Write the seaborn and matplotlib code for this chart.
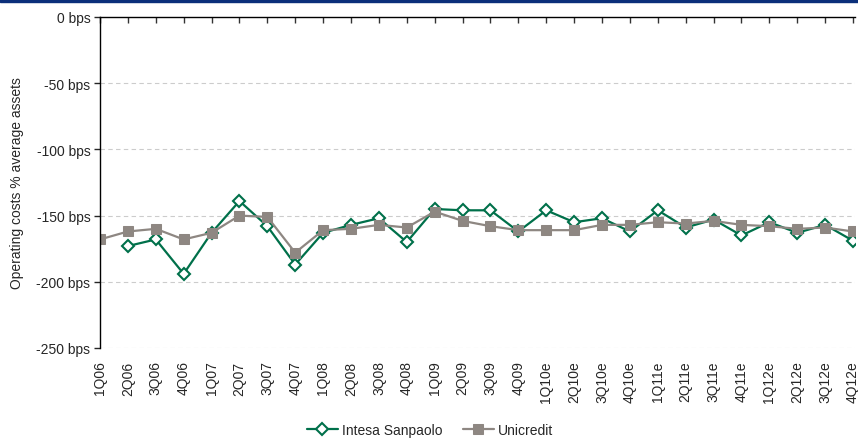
import matplotlib
matplotlib.use("Agg")
import matplotlib.pyplot as plt
import seaborn as sns
import numpy as np
import pandas as pd

quarters = ["1Q06", "2Q06", "3Q06", "4Q06", "1Q07", "2Q07", "3Q07", "4Q07",
            "1Q08", "2Q08", "3Q08", "4Q08", "1Q09", "2Q09", "3Q09", "4Q09",
            "1Q10e", "2Q10e", "3Q10e", "4Q10e", "1Q11e", "2Q11e", "3Q11e", "4Q11e",
            "1Q12e", "2Q12e", "3Q12e", "4Q12e"]

intesa = [np.nan, -173, -168, -194, -163, -139, -158, -187,
          -163, -157, -152, -170, -145, -146, -146, -162,
          -146, -155, -152, -162, -146, -159, -153, -165,
          -155, -163, -157, -169]

unicredit = [-168, -162, -160, -168, -163, -150, -151, -178,
             -161, -160, -157, -159, -147, -154, -158, -161,
             -161, -161, -157, -157, -155, -156, -154, -157,
             -158, -160, -159, -162]

df = pd.DataFrame({"pos": np.arange(len(quarters)), "Intesa Sanpaolo": intesa,
                   "Unicredit": unicredit})

sns.set_style("white")
plt.rcParams["font.family"] = ["Liberation Sans", "DejaVu Sans"]

green = "#00704a"
grey = "#8e8782"
fs = 10

fig = plt.figure(figsize=(8.58, 4.39), dpi=100)
ax = fig.add_axes([100 / 858, 90 / 439, 755 / 858, 331 / 439])

sns.lineplot(data=df, x="pos", y="Intesa Sanpaolo", ax=ax, color=green, lw=1.6,
             marker="D", markersize=6, markerfacecolor="white",
             markeredgecolor=green, markeredgewidth=1.5, label="Intesa Sanpaolo")
sns.lineplot(data=df, x="pos", y="Unicredit", ax=ax, color=grey, lw=1.6,
             marker="s", markersize=6.5, markerfacecolor=grey,
             markeredgecolor=grey, label="Unicredit")

ax.set_xlim(0, len(quarters) - 1 + 0.07)
ax.set_ylim(-250, 0)
ax.set_yticks([0, -50, -100, -150, -200, -250])
ax.set_yticklabels([f"{v} bps" for v in [0, -50, -100, -150, -200, -250]], fontsize=fs)
ax.set_xticks(np.arange(len(quarters)))
ax.set_xticklabels(quarters, rotation=90, fontsize=fs)
ax.set_xlabel("")
ax.set_ylabel("Operating costs % average assets", fontsize=fs, labelpad=9)

for v in [-50, -100, -150, -200, -250]:
    ax.axhline(v, color="#cccccc", lw=0.8, ls=(0, (4, 3)), zorder=0)

ax.spines["right"].set_visible(False)
ax.spines["bottom"].set_visible(False)
ax.spines["top"].set_color("black")
ax.spines["left"].set_color("black")
ax.spines["top"].set_linewidth(1.0)
ax.spines["left"].set_linewidth(1.0)

ax.tick_params(axis="x", bottom=False, top=True, direction="in", length=4,
               width=1, color="#333333", labelbottom=True, labeltop=False, pad=9)
ax.tick_params(axis="y", left=True, direction="out", length=4, width=1, pad=3)

leg = ax.legend(loc="center", bbox_to_anchor=(430 / 858, 8 / 439),
                bbox_transform=fig.transFigure, ncol=2, frameon=False,
                fontsize=fs, handlelength=2.2, handletextpad=0.3, columnspacing=1.5)

# navy band at top
fig.patches.append(plt.Rectangle((0, 1 - 3 / 439), 1, 3 / 439, transform=fig.transFigure,
                                 color="#0b2f7a", zorder=5))

fig.savefig("out.png", dpi=100)
